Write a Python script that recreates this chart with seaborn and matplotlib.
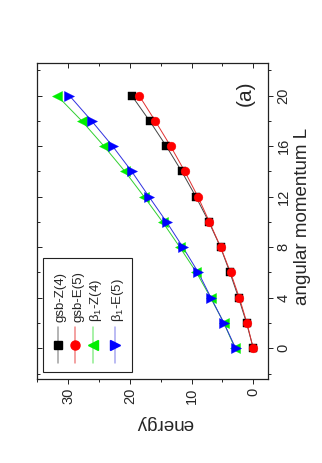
import pandas as pd
import seaborn as sns
import matplotlib.pyplot as plt
from matplotlib.ticker import MultipleLocator
from matplotlib.patches import Rectangle
from matplotlib.lines import Line2D

L = [0, 2, 4, 6, 8, 10, 12, 14, 16, 18, 20]
gsb_z4 = [0.0, 1.08, 2.38, 3.78, 5.30, 7.19, 9.30, 11.6, 14.1, 16.8, 19.7]
gsb_e5 = [0.0, 1.02, 2.25, 3.68, 5.28, 7.10, 8.97, 11.1, 13.4, 15.9, 18.5]
beta1_z4 = [2.95, 4.75, 6.90, 9.20, 11.9, 14.7, 17.7, 20.8, 24.2, 27.8, 31.8]
beta1_e5 = [2.85, 4.75, 6.85, 8.90, 11.4, 14.05, 16.9, 19.7, 22.8, 26.2, 29.8]

names = ['gsb-Z(4)', 'gsb-E(5)', 'β$_1$-Z(4)', 'β$_1$-E(5)']
series = [gsb_z4, gsb_e5, beta1_z4, beta1_e5]
marker_colors = ['#000000', '#ff0000', '#00ee00', '#0000ff']
line_colors = ['#444444', '#e03030', '#30d030', '#3030e0']
legend_line_colors = ['#a0a0a0', '#f08888', '#90ee90', '#a8a8f0']
markers = ['s', 'o', '<', '>']
sizes = [34, 40, 52, 52]
legend_ms = [5.2, 6.5, 7.5, 7.5]

sns.set_style('ticks')
plt.rcParams['font.family'] = ['Liberation Sans', 'DejaVu Sans']
plt.rcParams['mathtext.fontset'] = 'custom'
plt.rcParams['mathtext.rm'] = 'Liberation Sans'
plt.rcParams['mathtext.it'] = 'Liberation Sans'

fig = plt.figure(figsize=(3.22, 4.63), dpi=100)
ax = fig.add_axes([0.114, 0.1814, 0.719, 0.682])

for vals, lc in zip(series, line_colors):
    df = pd.DataFrame({'energy': vals, 'L': L})
    sns.lineplot(data=df, x='energy', y='L', orient='y', sort=False, estimator=None,
                 color=lc, lw=0.7, ax=ax, zorder=2)
for vals, mc, m, s in zip(series, marker_colors, markers, sizes):
    df = pd.DataFrame({'energy': vals, 'L': L})
    sns.scatterplot(data=df, x='energy', y='L', marker=m, s=s, color=mc,
                    edgecolor=mc, linewidth=0.3, ax=ax, zorder=3)

ax.set_xlim(35.1, -2.43)
ax.set_ylim(-2.43, 22.56)

# energy axis (bottom, ticks out) and L axis (right, ticks out)
ax.xaxis.set_major_locator(MultipleLocator(10))
ax.xaxis.set_minor_locator(MultipleLocator(5))
ax.yaxis.set_major_locator(MultipleLocator(4))
ax.yaxis.set_minor_locator(MultipleLocator(2))
ax.yaxis.tick_right()
ax.tick_params(axis='both', which='major', direction='out', length=3.6, width=0.7,
               labelsize=10.5, pad=2.5, color='#222222')
ax.tick_params(axis='both', which='minor', direction='out', length=2.2, width=0.7,
               color='#222222')
for t in ax.get_xticklabels():
    t.set_rotation(90)
    t.set_ha('center')
    t.set_va('top')
for t in ax.get_yticklabels():
    t.set_rotation(90)
    t.set_ha('left')
    t.set_va('center')

# inward ticks on top and left
top = ax.secondary_xaxis('top')
top.xaxis.set_major_locator(MultipleLocator(10))
top.xaxis.set_minor_locator(MultipleLocator(5))
top.tick_params(which='major', direction='in', length=3.6, width=0.7, labeltop=False, color='#222222')
top.tick_params(which='minor', direction='in', length=2.2, width=0.7, color='#222222')
left = ax.secondary_yaxis('left')
left.yaxis.set_major_locator(MultipleLocator(4))
left.yaxis.set_minor_locator(MultipleLocator(2))
left.tick_params(which='major', direction='in', length=3.6, width=0.7, labelleft=False, color='#222222')
left.tick_params(which='minor', direction='in', length=2.2, width=0.7, color='#222222')
for sec in (top, left):
    for sp in sec.spines.values():
        sp.set_visible(False)

for sp in ax.spines.values():
    sp.set_visible(True)
    sp.set_linewidth(0.9)
    sp.set_color('#222222')

ax.set_xlabel('')
ax.set_ylabel('')
ax.text(0.554, -0.140, 'energy', transform=ax.transAxes, rotation=180,
        ha='center', va='center', fontsize=13.5)
ax.text(1.147, 0.515, 'angular momentum L', transform=ax.transAxes, rotation=90,
        ha='center', va='center', fontsize=13.5)
ax.text(0.90, 0.905, '(a)', transform=ax.transAxes, rotation=90,
        ha='center', va='center', fontsize=15)

# legend drawn rotated, entries stacked left to right
ax.add_patch(Rectangle((0.027, 0.023), 0.386, 0.359, transform=ax.transAxes,
                       facecolor='white', edgecolor='#222222', lw=0.8, zorder=4))
xs = [0.091, 0.167, 0.244, 0.338]
for xc, name, mc, lc, m, ms in zip(xs, names, marker_colors, legend_line_colors, markers, legend_ms):
    ax.add_line(Line2D([xc, xc], [0.050, 0.166], transform=ax.transAxes,
                       color=lc, lw=1.1, zorder=5))
    ax.add_line(Line2D([xc], [0.108], transform=ax.transAxes, marker=m, ms=ms,
                       color=mc, mec=mc, ls='none', zorder=6))
    ax.text(xc + 0.012, 0.182, name, transform=ax.transAxes, rotation=90,
            rotation_mode='anchor', ha='left', va='center', fontsize=9.5, zorder=6)

fig.savefig('out.png', dpi=100)
